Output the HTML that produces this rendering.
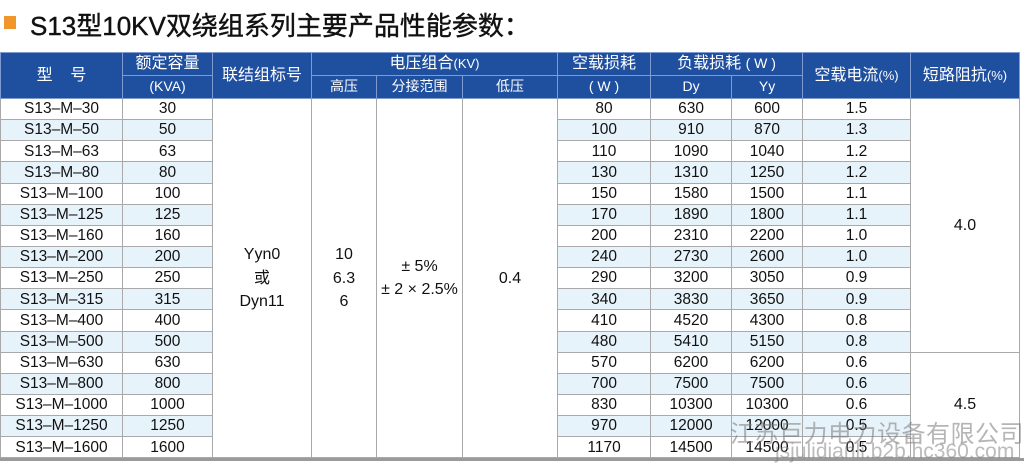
<!DOCTYPE html>
<html><head><meta charset="utf-8"><style>
html,body{margin:0;padding:0;background:#fff;width:1024px;height:463px;overflow:hidden;font-family:"Liberation Sans","Noto Sans CJK SC",sans-serif;}
.t{position:absolute;left:30px;top:6px;font-size:26px;color:#111;white-space:nowrap;-webkit-text-stroke:0.4px #111}
.sq{position:absolute;left:4px;top:16px;width:12px;height:13px;background:#f0962a}
table{position:absolute;left:0;top:52px;border-collapse:collapse;table-layout:fixed;width:1019px}
td{border:1px solid #a9a9a9;text-align:center;font-size:15.5px;color:#111;padding:0;overflow:hidden;white-space:nowrap;line-height:1}
th{background:#1f4f9f;color:#fff;font-weight:normal;font-size:16px;border:1px solid #7f9bd0;padding:0;line-height:1.25}
th.s{font-size:14px}
tr.h1{height:23px}tr.h2{height:23px}
tr.d{height:21.15px}
tr.b td.st{background:#e7f3fb}
td.m{background:#fff;line-height:1.45;font-size:16px}
.bot{position:absolute;left:0;top:458px;width:1024px;height:3px;background:#9a9a9a}
.wm{position:absolute;left:730px;top:414px;font-size:24px;color:rgba(120,120,120,0.55);white-space:nowrap;letter-spacing:0.5px}
.wm2{position:absolute;left:775px;top:440px;font-size:21px;color:rgba(120,120,120,0.5);white-space:nowrap}
</style></head><body>
<div class="sq"></div>
<div class="t">S13型10KV双绕组系列主要产品性能参数：</div>
<table>
<colgroup><col style="width:122px"><col style="width:90px"><col style="width:99px"><col style="width:65px"><col style="width:86px"><col style="width:95px"><col style="width:93px"><col style="width:81px"><col style="width:71px"><col style="width:108px"><col style="width:109px"></colgroup>
<tr class="h1"><th rowspan="2">型&nbsp;&nbsp;&nbsp;&nbsp;号</th><th>额定容量</th><th rowspan="2">联结组标号</th><th colspan="3">电压组合<span style="font-size:13px">(KV)</span></th><th>空载损耗</th><th colspan="2">负载损耗 <span style="font-size:14px">( W )</span></th><th rowspan="2">空载电流<span style="font-size:13px">(%)</span></th><th rowspan="2">短路阻抗<span style="font-size:13px">(%)</span></th></tr>
<tr class="h2"><th class="s">(KVA)</th><th class="s">高压</th><th class="s">分接范围</th><th class="s">低压</th><th class="s">( W )</th><th class="s">Dy</th><th class="s">Yy</th></tr>
<tr class="d"><td class="st">S13–M–30</td><td class="st">30</td><td class="m" rowspan="17">Yyn0<br>或<br>Dyn11</td><td class="m" rowspan="17">10<br>6.3<br>6</td><td class="m" rowspan="17">± 5%<br>± 2 × 2.5%</td><td class="m" rowspan="17">0.4</td><td class="st">80</td><td class="st">630</td><td class="st">600</td><td class="st">1.5</td><td class="m" rowspan="12">4.0</td></tr>
<tr class="d b"><td class="st">S13–M–50</td><td class="st">50</td><td class="st">100</td><td class="st">910</td><td class="st">870</td><td class="st">1.3</td></tr>
<tr class="d"><td class="st">S13–M–63</td><td class="st">63</td><td class="st">110</td><td class="st">1090</td><td class="st">1040</td><td class="st">1.2</td></tr>
<tr class="d b"><td class="st">S13–M–80</td><td class="st">80</td><td class="st">130</td><td class="st">1310</td><td class="st">1250</td><td class="st">1.2</td></tr>
<tr class="d"><td class="st">S13–M–100</td><td class="st">100</td><td class="st">150</td><td class="st">1580</td><td class="st">1500</td><td class="st">1.1</td></tr>
<tr class="d b"><td class="st">S13–M–125</td><td class="st">125</td><td class="st">170</td><td class="st">1890</td><td class="st">1800</td><td class="st">1.1</td></tr>
<tr class="d"><td class="st">S13–M–160</td><td class="st">160</td><td class="st">200</td><td class="st">2310</td><td class="st">2200</td><td class="st">1.0</td></tr>
<tr class="d b"><td class="st">S13–M–200</td><td class="st">200</td><td class="st">240</td><td class="st">2730</td><td class="st">2600</td><td class="st">1.0</td></tr>
<tr class="d"><td class="st">S13–M–250</td><td class="st">250</td><td class="st">290</td><td class="st">3200</td><td class="st">3050</td><td class="st">0.9</td></tr>
<tr class="d b"><td class="st">S13–M–315</td><td class="st">315</td><td class="st">340</td><td class="st">3830</td><td class="st">3650</td><td class="st">0.9</td></tr>
<tr class="d"><td class="st">S13–M–400</td><td class="st">400</td><td class="st">410</td><td class="st">4520</td><td class="st">4300</td><td class="st">0.8</td></tr>
<tr class="d b"><td class="st">S13–M–500</td><td class="st">500</td><td class="st">480</td><td class="st">5410</td><td class="st">5150</td><td class="st">0.8</td></tr>
<tr class="d"><td class="st">S13–M–630</td><td class="st">630</td><td class="st">570</td><td class="st">6200</td><td class="st">6200</td><td class="st">0.6</td><td class="m" rowspan="5">4.5</td></tr>
<tr class="d b"><td class="st">S13–M–800</td><td class="st">800</td><td class="st">700</td><td class="st">7500</td><td class="st">7500</td><td class="st">0.6</td></tr>
<tr class="d"><td class="st">S13–M–1000</td><td class="st">1000</td><td class="st">830</td><td class="st">10300</td><td class="st">10300</td><td class="st">0.6</td></tr>
<tr class="d b"><td class="st">S13–M–1250</td><td class="st">1250</td><td class="st">970</td><td class="st">12000</td><td class="st">12000</td><td class="st">0.5</td></tr>
<tr class="d"><td class="st">S13–M–1600</td><td class="st">1600</td><td class="st">1170</td><td class="st">14500</td><td class="st">14500</td><td class="st">0.5</td></tr>
</table>
<div class="bot"></div>
<div class="wm">江苏巨力电力设备有限公司</div>
<div class="wm2">jsjulidianli.b2b.hc360.com</div>
</body></html>
